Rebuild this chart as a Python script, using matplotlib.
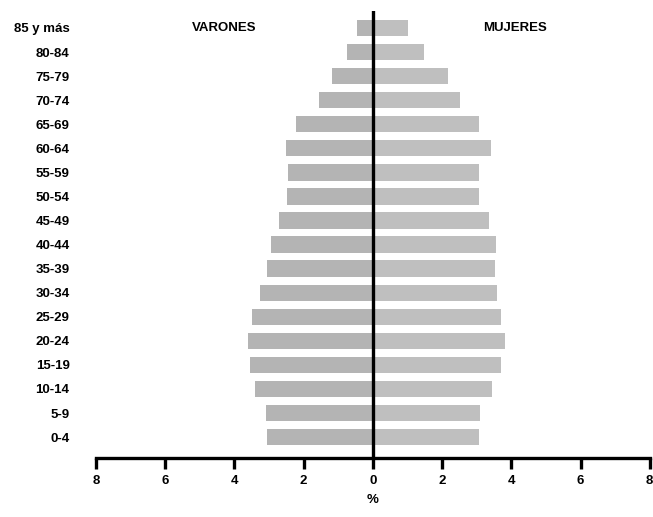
import numpy as np
import matplotlib.pyplot as plt

# ---------------------------------------------------------------
# Data (% of population by age group)
# ---------------------------------------------------------------
groups = ["0-4", "5-9", "10-14", "15-19", "20-24", "25-29", "30-34", "35-39",
          "40-44", "45-49", "50-54", "55-59", "60-64", "65-69", "70-74",
          "75-79", "80-84", "85 y más"]
varones = [3.07, 3.09, 3.41, 3.56, 3.60, 3.48, 3.25, 3.07, 2.95, 2.72, 2.49,
           2.46, 2.51, 2.21, 1.55, 1.19, 0.74, 0.45]
mujeres = [3.06, 3.09, 3.43, 3.71, 3.82, 3.71, 3.59, 3.54, 3.55, 3.36, 3.06,
           3.06, 3.41, 3.06, 2.51, 2.18, 1.47, 1.01]
xticks = [-8, -6, -4, -2, 0, 2, 4, 6, 8]

plt.rcParams['font.family'] = ['Liberation Sans', 'DejaVu Sans']
plt.rcParams['font.weight'] = 'bold'

# ---------------------------------------------------------------
# Plot
# ---------------------------------------------------------------
fig = plt.figure(figsize=(6.53, 5.17), dpi=100)
ax = fig.add_axes([0.147, 0.114, 0.848, 0.865])

y = np.arange(len(groups))
ax.barh(y, -np.array(varones), height=0.68, color="#b4b4b4")
ax.barh(y, mujeres, height=0.68, color="#bfbfbf")
ax.axvline(0, color="black", lw=2.4, zorder=3)

ax.set_xlim(-8, 8)
ax.set_ylim(-0.87, 17.71)
ax.set_yticks(y)
ax.set_yticklabels(groups, fontsize=9.5, fontweight="bold")
ax.tick_params(axis="y", length=0, pad=19)
ax.set_xticks(xticks)
ax.set_xticklabels([str(abs(v)) for v in xticks], fontsize=9.5, fontweight="bold")
ax.tick_params(axis="x", length=8, width=2.4, pad=4)

for s in ["left", "right", "top"]:
    ax.spines[s].set_visible(False)
ax.spines["bottom"].set_linewidth(2.4)

ax.text(-4.3, 17, "VARONES", ha="center", va="center", fontsize=9.5, fontweight="bold")
ax.text(4.1, 17, "MUJERES", ha="center", va="center", fontsize=9.5, fontweight="bold")
ax.set_xlabel("%", fontsize=9.5, fontweight="bold", labelpad=5)

fig.savefig("out.png", dpi=100)
